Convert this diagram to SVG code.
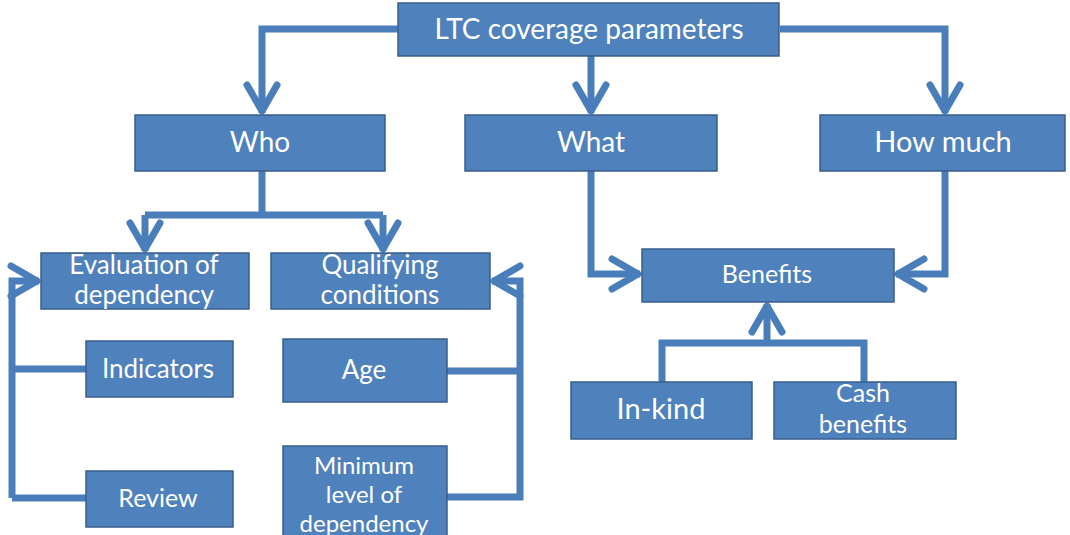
<svg xmlns="http://www.w3.org/2000/svg" width="1070" height="535" viewBox="0 0 1070 535">
  <style>
    .box { fill: #4f81bd; stroke: #385d8a; stroke-width: 1.5; }
    .lbl { fill: #ffffff; font-family: Lato, "Open Sans", "Liberation Sans", sans-serif; text-anchor: middle; }
    .link { fill: none; stroke: #4a7ebb; stroke-width: 7; stroke-linejoin: miter; marker-end: url(#arr); }
    .plain { fill: none; stroke: #4a7ebb; stroke-width: 7; }
  </style>
  <defs>
    <marker id="arr" markerUnits="userSpaceOnUse" viewBox="-34 -22 40 44" refX="2" refY="0" markerWidth="40" markerHeight="44" orient="auto">
      <path d="M-26,-15 L0,0 L-26,15" fill="none" stroke="#4a7ebb" stroke-width="7" stroke-linecap="round" stroke-linejoin="round"/>
    </marker>
  </defs>

  <!-- connectors -->
  <g id="connectors">
    <path class="link" d="M398,29 H262 V113"/>
    <path class="link" d="M591,56 V113"/>
    <path class="link" d="M780,29 H945 V113"/>
    <path class="plain" d="M262,171 V215"/>
    <path class="link" d="M145,215 V251"/>
    <path class="link" d="M383,215 V251"/>
    <path class="plain" d="M145,215 H383"/>
    <path class="link" d="M12,498 V281 H39"/>
    <path class="plain" d="M86,369 H12"/>
    <path class="plain" d="M86,498 H12"/>
    <path class="link" d="M447,497 H520 V281 H492"/>
    <path class="plain" d="M447,371 H520"/>
    <path class="link" d="M591,171 V274 H640"/>
    <path class="link" d="M945,171 V274 H896"/>
    <path class="plain" d="M662,382 V343 H864 V382"/>
    <path class="link" d="M767,343 V304"/>
  </g>

  <g id="ltc">
    <rect class="box" x="398" y="3" width="381" height="53"/>
    <text class="lbl" x="589" y="39" font-size="28">LTC coverage parameters</text>
  </g>
  <g id="who">
    <rect class="box" x="135" y="115" width="250" height="56"/>
    <text class="lbl" x="260" y="152" font-size="28">Who</text>
  </g>
  <g id="what">
    <rect class="box" x="465" y="115" width="252" height="56"/>
    <text class="lbl" x="591" y="152" font-size="28">What</text>
  </g>
  <g id="howmuch">
    <rect class="box" x="820" y="115" width="245" height="56"/>
    <text class="lbl" x="943" y="152" font-size="29">How much</text>
  </g>
  <g id="evaluation">
    <rect class="box" x="41" y="253" width="208" height="56"/>
    <text class="lbl" x="144" y="274" font-size="26">Evaluation of</text>
    <text class="lbl" x="144" y="304" font-size="26">dependency</text>
  </g>
  <g id="qualifying">
    <rect class="box" x="271" y="253" width="219" height="56"/>
    <text class="lbl" x="380" y="274" font-size="26">Qualifying</text>
    <text class="lbl" x="380" y="304" font-size="26">conditions</text>
  </g>
  <g id="indicators">
    <rect class="box" x="86" y="341" width="147" height="56"/>
    <text class="lbl" x="158" y="378" font-size="26">Indicators</text>
  </g>
  <g id="review">
    <rect class="box" x="86" y="471" width="147" height="56"/>
    <text class="lbl" x="158" y="507" font-size="25">Review</text>
  </g>
  <g id="age">
    <rect class="box" x="283" y="339" width="164" height="63"/>
    <text class="lbl" x="364" y="379" font-size="26">Age</text>
  </g>
  <g id="minimum">
    <rect class="box" x="283" y="446" width="164" height="92"/>
    <text class="lbl" x="364" y="474" font-size="24">Minimum</text>
    <text class="lbl" x="364" y="503" font-size="24">level of</text>
    <text class="lbl" x="364" y="532" font-size="24">dependency</text>
  </g>
  <g id="benefits">
    <rect class="box" x="642" y="249" width="252" height="53"/>
    <text class="lbl" x="767" y="283" font-size="25">Benefits</text>
  </g>
  <g id="inkind">
    <rect class="box" x="571" y="382" width="181" height="57"/>
    <text class="lbl" x="661" y="419" font-size="29">In-kind</text>
  </g>
  <g id="cash">
    <rect class="box" x="774" y="382" width="182" height="57"/>
    <text class="lbl" x="863" y="402" font-size="25">Cash</text>
    <text class="lbl" x="863" y="433" font-size="25">benefits</text>
  </g>
</svg>
